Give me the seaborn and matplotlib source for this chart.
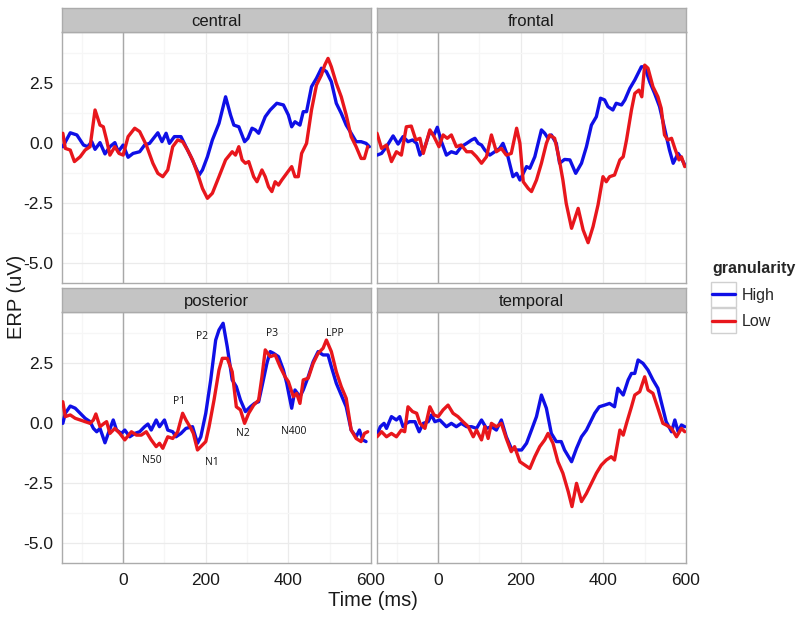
import numpy as np
import pandas as pd
import seaborn as sns
import matplotlib.pyplot as plt
from matplotlib.lines import Line2D
from matplotlib.patches import Rectangle

# ---- data (time in ms, ERP in uV) ----
regions = ['central', 'frontal', 'posterior', 'temporal']
levels = ['High', 'Low']

central_high_t = [-146, -128, -112, -96, -86, -76, -68, -56, -44, -32, -20, -12, 0, 12, 24, 40, 52, 64, 84, 94,
                  104, 112, 124, 140, 148, 164, 184, 192, 204, 216, 232, 248, 260, 268, 280, 294, 302, 312, 320,
                  328, 344, 356, 372, 388, 400, 408, 416, 428, 436, 444, 456, 468, 480, 492, 504, 516, 528, 540,
                  552, 564, 576, 588, 596]
central_high_v = [-0.14, 0.44, 0.35, -0.07, -0.14, 0.07, -0.25, 0.03, -0.44, -0.14, 0.03, -0.35, -0.07, -0.58,
                  -0.42, -0.35, -0.07, 0.0, 0.44, 0.07, 0.42, 0.0, 0.28, 0.28, 0.0, -0.56, -1.32, -1.11, -0.56,
                  0.14, 0.83, 1.94, 1.18, 0.76, 0.69, 0.07, 0.21, 0.63, 0.56, 0.42, 1.11, 1.39, 1.67, 1.6, 1.18,
                  0.69, 0.9, 0.76, 1.32, 1.32, 2.36, 2.71, 3.13, 2.99, 2.57, 1.67, 1.25, 0.76, 0.42, 0.07, 0.07,
                  0.0, -0.14]

central_low_t = [-146, -140, -128, -118, -104, -92, -80, -68, -56, -48, -40, -32, -20, -10, 0, 12, 28, 40, 56, 72,
                 84, 96, 108, 120, 132, 144, 156, 168, 180, 192, 204, 216, 232, 248, 264, 272, 280, 288, 296, 304,
                 316, 324, 336, 344, 352, 360, 368, 376, 384, 396, 408, 416, 424, 432, 444, 456, 468, 480, 488,
                 496, 504, 516, 528, 540, 552, 564, 576, 584, 592]
central_low_v = [0.42, -0.21, -0.28, -0.76, -0.56, -0.28, -0.14, 1.39, 0.76, 0.69, 0.14, -0.49, -0.14, -0.42,
                 -0.49, 0.28, 0.63, 0.49, -0.07, -0.83, -1.25, -1.39, -1.11, -0.14, 0.14, 0.07, -0.28, -0.69,
                 -1.25, -1.88, -2.29, -2.08, -1.39, -0.69, -0.35, -0.49, -0.14, -0.69, -0.83, -0.76, -1.39, -1.6,
                 -1.11, -1.39, -1.81, -2.01, -1.6, -1.74, -1.53, -1.25, -0.97, -1.39, -1.39, -0.42, 0.0, 1.39,
                 2.43, 2.85, 3.26, 3.54, 3.19, 2.5, 1.94, 1.18, 0.28, -0.14, -0.63, -0.63, -0.14]

frontal_high_t = [-148, -137, -125, -109, -97, -85, -73, -62, -52, -44, -32, -20, -10, -2, 8, 20, 32, 44, 56, 69,
                  81, 89, 97, 105, 113, 125, 137, 149, 157, 169, 181, 190, 198, 206, 214, 222, 234, 250, 258, 266,
                  274, 286, 294, 306, 319, 333, 347, 359, 371, 383, 393, 403, 411, 423, 431, 444, 452, 464, 476,
                  492, 500, 512, 524, 536, 548, 560, 569, 581, 589, 597]
frontal_high_v = [-0.49, -0.42, -0.14, 0.31, -0.03, 0.28, 0.07, 0.14, 0.0, -0.49, -0.14, 0.49, 0.35, 0.67, 0.07,
                  -0.49, -0.35, -0.42, -0.14, 0.0, 0.14, 0.21, 0.0, -0.07, -0.28, -0.49, -0.35, -0.21, 0.0, -0.56,
                  -1.39, -1.25, -1.53, -1.25, -0.97, -1.04, -0.56, 0.56, 0.42, 0.21, 0.35, 0.0, -0.83, -0.67,
                  -0.69, -1.25, -0.83, -0.14, 0.76, 1.11, 1.88, 1.81, 1.53, 1.39, 1.67, 1.6, 1.81, 2.29, 2.64,
                  3.19, 3.19, 2.57, 2.08, 1.53, 0.63, -0.28, -0.83, -0.42, -0.63, -0.9]

frontal_low_t = [-148, -137, -125, -113, -101, -89, -77, -65, -54, -44, -36, -20, -10, 2, 12, 22, 32, 44, 56, 69,
                 81, 93, 105, 117, 129, 141, 153, 165, 177, 190, 198, 206, 218, 226, 238, 250, 262, 270, 282, 292,
                 302, 310, 323, 339, 351, 363, 375, 387, 399, 407, 415, 427, 440, 448, 456, 468, 476, 486, 493,
                 500, 508, 520, 532, 540, 548, 556, 565, 573, 583, 589, 597]
frontal_low_v = [0.42, -0.21, -0.07, -0.76, -0.35, -0.49, 0.69, 0.72, 0.14, 0.21, -0.42, 0.56, 0.28, -0.14, 0.35,
                 0.21, 0.35, -0.14, -0.07, -0.35, -0.35, -0.56, -0.83, -0.56, 0.35, -0.35, -0.21, -0.49, -0.42,
                 0.63, 0.0, -1.6, -1.88, -2.01, -1.53, -0.83, 0.0, 0.35, 0.21, -0.56, -1.53, -2.5, -3.54, -2.71,
                 -3.61, -4.14, -3.47, -2.57, -1.39, -1.6, -1.39, -1.32, -0.69, -0.56, 0.14, 1.39, 2.08, 2.22,
                 1.94, 3.26, 3.13, 2.36, 1.94, 1.46, 0.35, 0.14, 0.21, -0.21, -0.69, -0.56, -0.97]

posterior_high_t = [-146, -140, -128, -116, -104, -92, -80, -72, -64, -56, -44, -36, -24, -16, -4, 4, 16, 28, 40,
                    52, 60, 68, 80, 88, 100, 108, 120, 128, 140, 152, 168, 180, 188, 200, 212, 224, 232, 242, 252,
                    264, 274, 284, 296, 308, 318, 328, 336, 348, 356, 364, 376, 388, 396, 408, 416, 428, 436, 448,
                    460, 472, 484, 496, 504, 516, 528, 540, 552, 564, 572, 580, 588]
posterior_high_v = [0.0, 0.42, 0.72, 0.63, 0.42, 0.21, 0.07, -0.21, -0.35, -0.21, -0.81, -0.42, 0.14, -0.28,
                    -0.42, -0.28, -0.56, -0.42, -0.35, -0.14, -0.03, -0.28, 0.14, -0.14, 0.14, -0.28, -0.35,
                    -0.56, -0.42, -0.21, -0.14, -0.83, -0.56, 0.42, 1.81, 3.47, 3.89, 4.17, 3.19, 1.81, 1.53, 0.97,
                    0.49, 0.69, 0.83, 0.9, 1.53, 2.5, 2.99, 2.92, 2.78, 2.22, 1.67, 0.63, 1.39, 1.11, 1.39, 1.94,
                    2.57, 2.99, 2.85, 2.85, 2.36, 1.67, 1.18, 0.69, -0.28, -0.56, -0.28, -0.69, -0.76]

posterior_low_t = [-146, -140, -128, -116, -104, -92, -80, -72, -66, -56, -46, -40, -32, -20, -8, 4, 20, 32, 44,
                   56, 68, 80, 88, 96, 108, 120, 132, 144, 152, 164, 170, 180, 192, 200, 208, 220, 232, 240, 252,
                   264, 274, 284, 294, 304, 316, 328, 336, 344, 356, 368, 380, 392, 400, 412, 420, 428, 436, 448,
                   460, 472, 484, 492, 504, 516, 528, 540, 552, 564, 576, 584, 592]
posterior_low_v = [0.9, 0.28, 0.35, 0.21, 0.14, 0.07, 0.0, 0.14, 0.39, -0.14, 0.0, 0.07, -0.42, -0.21, -0.42,
                   -0.69, -0.35, -0.49, -0.49, -0.35, -0.69, -0.97, -0.83, -1.04, -0.56, -0.63, -0.35, 0.42, 0.14,
                   -0.21, -0.42, -1.11, -0.9, -0.76, -0.14, 0.97, 2.22, 2.71, 2.71, 2.15, 0.69, 0.56, 0.0, 0.42,
                   0.76, 0.97, 1.94, 3.06, 2.78, 2.85, 2.36, 1.94, 1.74, 1.11, 1.25, 0.83, 1.81, 1.88, 2.5, 2.92,
                   3.13, 3.47, 2.99, 2.15, 1.53, 1.04, -0.28, -0.63, -0.76, -0.42, -0.35]

temporal_high_t = [-148, -140, -131, -125, -113, -101, -93, -85, -77, -69, -56, -46, -36, -24, -16, -8, 4, 20, 32,
                   44, 56, 69, 81, 93, 105, 117, 129, 141, 153, 165, 177, 190, 202, 214, 226, 238, 250, 262, 274,
                   286, 298, 306, 323, 335, 347, 359, 371, 379, 390, 403, 415, 427, 435, 448, 460, 468, 476, 484,
                   496, 508, 520, 532, 540, 552, 565, 573, 581, 589, 597]
temporal_high_v = [-0.49, -0.14, 0.0, -0.21, 0.28, 0.14, 0.28, -0.14, 0.0, 0.07, 0.07, -0.35, 0.0, 0.07, 0.35,
                   0.07, 0.14, -0.14, 0.0, -0.14, 0.0, -0.14, -0.14, -0.21, 0.14, -0.21, -0.14, -0.28, 0.14, -0.56,
                   -1.04, -1.11, -1.11, -0.83, -0.28, 0.28, 1.18, 0.63, -0.42, -0.76, -0.76, -1.11, -1.6, -1.04,
                   -0.56, -0.28, 0.14, 0.42, 0.69, 0.76, 0.83, 0.69, 1.46, 1.18, 1.81, 2.08, 2.08, 2.64, 2.5, 2.22,
                   1.81, 1.46, 0.9, 0.07, -0.35, 0.14, -0.35, -0.07, -0.14]

temporal_low_t = [-148, -137, -125, -113, -101, -89, -81, -73, -62, -52, -44, -32, -20, -10, 0, 12, 24, 36, 48, 60,
                  73, 85, 93, 105, 113, 121, 129, 141, 153, 165, 177, 185, 198, 210, 222, 234, 246, 258, 266, 278,
                  290, 302, 315, 324, 335, 347, 359, 371, 383, 395, 407, 419, 427, 440, 448, 456, 468, 476, 488,
                  500, 508, 520, 532, 544, 552, 565, 577, 589, 597]
temporal_low_v = [-0.56, -0.35, -0.56, -0.42, -0.56, -0.28, -0.35, 0.69, 0.49, 0.42, 0.0, -0.21, 0.69, 0.35, 0.28,
                  0.56, 0.76, 0.42, 0.28, 0.07, -0.14, -0.56, -0.28, -0.69, -0.14, -0.63, 0.0, -0.14, 0.0, -0.63,
                  -1.18, -0.97, -1.6, -1.74, -1.88, -1.39, -0.97, -0.69, -0.42, -0.83, -1.6, -2.08, -2.85, -3.47,
                  -2.5, -3.26, -2.92, -2.5, -2.08, -1.74, -1.53, -1.39, -1.53, -0.28, -0.49, 0.0, 0.69, 1.18, 1.32,
                  1.94, 1.39, 1.25, 0.63, 0.0, -0.07, -0.21, -0.56, -0.21, -0.35]

# component labels in the posterior panel
peak_labels = ['N50', 'P1', 'N1', 'P2', 'N2', 'P3', 'N400', 'LPP']
peak_times = [70, 136, 216, 192, 290, 360, 412, 512]
peak_values = [-1.53, 0.9, -1.64, 3.61, -0.44, 3.75, -0.35, 3.75]

series = {
    ('central', 'High'): (central_high_t, central_high_v),
    ('central', 'Low'): (central_low_t, central_low_v),
    ('frontal', 'High'): (frontal_high_t, frontal_high_v),
    ('frontal', 'Low'): (frontal_low_t, frontal_low_v),
    ('posterior', 'High'): (posterior_high_t, posterior_high_v),
    ('posterior', 'Low'): (posterior_low_t, posterior_low_v),
    ('temporal', 'High'): (temporal_high_t, temporal_high_v),
    ('temporal', 'Low'): (temporal_low_t, temporal_low_v),
}
frames = []
for (reg, lev), (t, v) in series.items():
    frames.append(pd.DataFrame({'time': t, 'erp': v, 'region': reg, 'granularity': lev}))
df = pd.concat(frames, ignore_index=True)

# ---- style ----
sns.set_style('white')
plt.rcParams['font.family'] = ['Liberation Sans', 'DejaVu Sans']
palette = {'High': '#0F0FE6', 'Low': '#E8161C'}
border_col = '#ABABAB'
strip_col = '#C4C4C4'
text_col = '#1A1A1A'

fig = plt.figure(figsize=(8, 6.18), dpi=100)

W, H = 800.0, 618.0
col_x = [62, 377]
row_y = [32, 312]
panel_w, panel_h, strip_h = 309, 251, 24

for i, reg in enumerate(regions):
    r, c = divmod(i, 2)
    x0 = col_x[c] / W
    y0 = 1 - (row_y[r] + panel_h) / H
    ax = fig.add_axes([x0, y0, panel_w / W, panel_h / H])
    sub = df[df['region'] == reg]
    sns.lineplot(data=sub, x='time', y='erp', hue='granularity', hue_order=levels,
                 palette=palette, estimator=None, linewidth=2.4, legend=False, ax=ax, zorder=3)
    ax.axvline(0, color='#A8A8A8', lw=1.0, zorder=2)

    ax.set_xlim(-148, 600)
    ax.set_ylim(-5.82, 4.64)
    ax.set_xticks([0, 200, 400, 600])
    ax.set_xticks([-100, 100, 300, 500], minor=True)
    ax.set_yticks([-5.0, -2.5, 0.0, 2.5])
    ax.set_yticks([-3.75, -1.25, 1.25, 3.75], minor=True)
    ax.set_yticklabels(['-5.0', '-2.5', '0.0', '2.5'])
    ax.grid(True, which='major', color='#EBEBEB', lw=0.9, zorder=0)
    ax.grid(True, which='minor', color='#F6F6F6', lw=0.9, zorder=0)
    ax.set_axisbelow(True)
    for s in ax.spines.values():
        s.set_color(border_col)
        s.set_linewidth(1.0)
    ax.set_xlabel('')
    ax.set_ylabel('')
    ax.tick_params(which='minor', length=0)
    ax.tick_params(which='major', length=4, width=0.9, color='#8C8C8C',
                   labelsize=12.5, labelcolor=text_col, pad=2)
    if c == 1:
        ax.tick_params(axis='y', left=False, labelleft=False)
    if r == 0:
        ax.tick_params(axis='x', bottom=False, labelbottom=False)
    else:
        ax.tick_params(axis='x', pad=3)

    if reg == 'posterior':
        for lab, t, v in zip(peak_labels, peak_times, peak_values):
            ax.text(t, v, lab, ha='center', va='center', fontsize=7.5,
                    family=['Open Sans', 'DejaVu Sans'], color='#111111', zorder=4)

    # facet strip
    sax = fig.add_axes([x0, 1 - row_y[r] / H, panel_w / W, strip_h / H])
    sax.set_facecolor(strip_col)
    sax.set_xticks([])
    sax.set_yticks([])
    for s in sax.spines.values():
        s.set_color(border_col)
        s.set_linewidth(1.0)
    sax.text(0.5, 0.45, reg, ha='center', va='center', fontsize=12, color=text_col,
             transform=sax.transAxes)

fig.text(373 / W, 1 - 600 / H, 'Time (ms)', ha='center', va='center', fontsize=14.5, color=text_col)
fig.text(17 / W, 1 - 297 / H, 'ERP (uV)', ha='center', va='center', rotation=90,
         fontsize=14.5, color=text_col)

handles = [Line2D([], [], color=palette[l], lw=2.4) for l in levels]
leg = fig.legend(handles, levels, title='granularity', loc='upper left',
                 bbox_to_anchor=(698 / W, 1 - 247 / H), frameon=False, fontsize=11.5,
                 handlelength=1.4, handletextpad=0.45, labelspacing=0.72,
                 title_fontproperties={'weight': 'bold', 'size': 11.5})
leg._legend_box.align = 'left'

# ggplot-like key boxes around the legend lines
fig.canvas.draw()
renderer = fig.canvas.get_renderer()
for h in leg.legend_handles:
    bb = h.get_window_extent(renderer)
    cx, cy = (bb.x0 + bb.x1) / 2, (bb.y0 + bb.y1) / 2
    fig.add_artist(Rectangle((cx - 12.5, cy - 12.5), 25, 25, transform=None,
                             facecolor='none', edgecolor='#D0D0D0', lw=1.0, zorder=4))

fig.savefig('out.png', dpi=100)
